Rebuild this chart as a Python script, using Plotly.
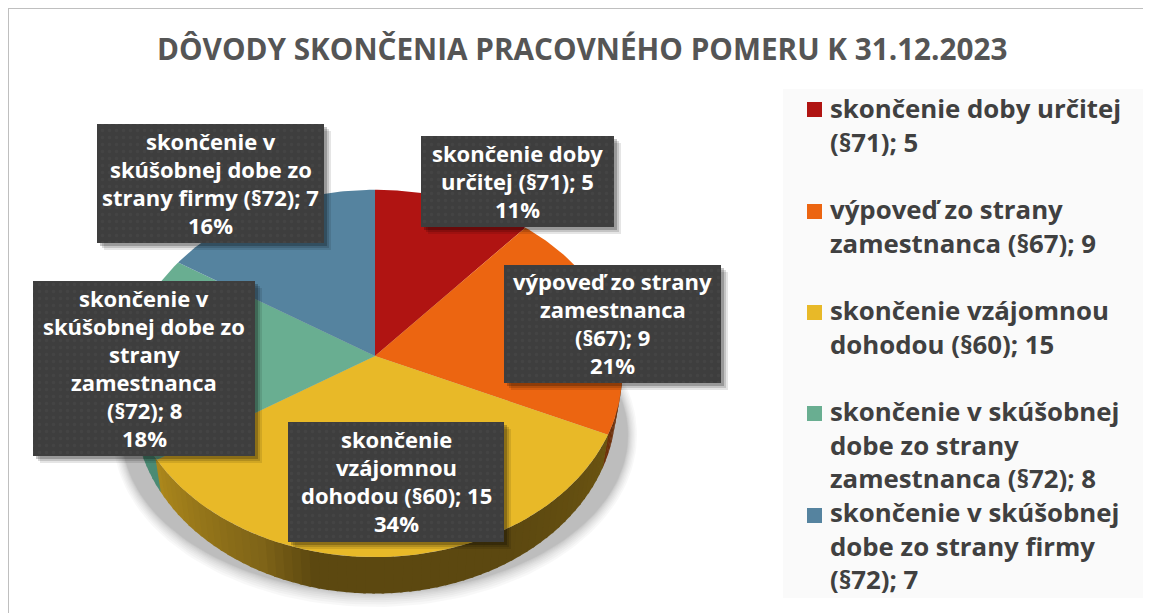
import numpy as np
import plotly.graph_objects as go

# ---- data ----
title = "DÔVODY SKONČENIA PRACOVNÉHO POMERU K 31.12.2023"
values = [5, 9, 15, 8, 7]
percents = [11, 21, 34, 18, 16]
label_lines = [
    ["skončenie doby", "určitej (§71); 5"],
    ["výpoveď zo strany", "zamestnanca", "(§67); 9"],
    ["skončenie", "vzájomnou", "dohodou (§60); 15"],
    ["skončenie v", "skúšobnej dobe zo", "strany", "zamestnanca", "(§72); 8"],
    ["skončenie v", "skúšobnej dobe zo", "strany firmy (§72); 7"],
]
legend_lines = [
    ["skončenie doby určitej", "(§71); 5"],
    ["výpoveď zo strany", "zamestnanca (§67); 9"],
    ["skončenie vzájomnou", "dohodou (§60); 15"],
    ["skončenie v skúšobnej", "dobe zo strany", "zamestnanca (§72); 8"],
    ["skončenie v skúšobnej", "dobe zo strany firmy", "(§72); 7"],
]

# ---- style and layout ----
W, H = 1151, 613
PAGE = 8  # the page body keeps an 8 px margin; the axes start there
FONT = "Open Sans"
colors = ["#b01412", "#ec6511", "#e8b928", "#69ae91", "#55839f"]
wall_side = ["#6e1010", "#6e300a", None, "#4b8b74", "#3d6076"]
CX, CY, RX, RY, PERSP = 375, 356, 246, 182, 0.095
DEPTH = 33
WALL_NARROW = 0.975
label_boxes = [(421, 136, 614, 227), (504, 265, 721, 383), (288, 422, 504, 542),
               (33, 281, 255, 456), (97, 124, 324, 243)]
legend_y = [125, 226, 327, 444.5, 545.5]
key_y = [109.5, 211.5, 312.5, 413.5, 515.5]
LABEL_PITCH = 28
LABEL_SIZE, LEGEND_SIZE, TITLE_SIZE = 22, 25.8, 29.7


def project(theta, dy=0.0, narrow=1.0):
    """theta clockwise from 12 o'clock -> perspective-projected rim point in pixels."""
    x, y = np.sin(theta), -np.cos(theta)
    s = 1 / (1 - PERSP * y)
    return CX + RX * narrow * x * s, CY + RY * y * s + dy * s


def poly(xs, ys, color, name=None, **kw):
    return go.Scatter(x=xs, y=ys, mode="lines", fill="toself", fillcolor=color,
                      line=dict(width=0), hoverinfo="skip", showlegend=False, name=name, **kw)


def text_block(lines, x, yc, pitch, size, color, anchor):
    n = len(lines)
    return [dict(x=x, y=yc + (j - (n - 1) / 2) * pitch, text=line, showarrow=False,
                 xref="x", yref="y", xanchor=anchor, yanchor="middle",
                 font=dict(family=FONT, size=size, color=color, weight="bold"))
            for j, line in enumerate(lines)]


fig = go.Figure()

# soft ground shadow
t = np.linspace(0, 2 * np.pi, 181)
for k in np.linspace(1, 0, 10) ** 1.6:
    fig.add_trace(poly(375 + (253 + 9 * k) * np.cos(t), 435 + (158 + 14 * k) * np.sin(t),
                       "rgba(0,0,0,0.026)"))

# boundaries of the slices, derived from the values
frac = np.cumsum([0] + values) / sum(values)
theta = 2 * np.pi * frac


def hex_mix(stops_t, stops_c, v):
    rgb = [np.interp(v, stops_t, [int(c[i:i + 2], 16) for c in stops_c]) for i in (1, 3, 5)]
    return "rgb(%d,%d,%d)" % tuple(rgb)


# side wall, cut into thin strips to carry the shading
wall_t = np.radians([114, 150, 193, 205, 237])
wall_c = ["#6b5412", "#5c4810", "#5c4810", "#7f6418", "#ab871c"]
edges = np.radians(np.arange(90, 272, 2.0))
for a, b in zip(edges[:-1], edges[1:]):
    mid = (a + b) / 2
    idx = int(np.searchsorted(theta, mid) - 1)
    col = wall_side[idx] or hex_mix(wall_t, wall_c, mid)
    arc = np.linspace(a, b + 0.01, 4)
    x1, y1 = project(arc)
    x2, y2 = project(arc[::-1], DEPTH, WALL_NARROW)
    fig.add_trace(poly(np.r_[x1, x2], np.r_[y1, y2], col))

# top face
for i, c in enumerate(colors):
    arc = np.linspace(theta[i], theta[i + 1], 80)
    xs, ys = project(arc)
    fig.add_trace(poly(np.r_[CX, xs, CX], np.r_[CY, ys, CY], c, name=" ".join(legend_lines[i])))

# data labels
annotations = []
for i, box in enumerate(label_boxes):
    x0, y0, x1, y1 = box
    for off, alpha in ((7, .10), (5, .14), (3, .22)):
        fig.add_trace(poly([x0 + off, x1 + off, x1 + off, x0 + off, x0 + off],
                           [y0 + off, y0 + off, y1 + off, y1 + off, y0 + off],
                           f"rgba(0,0,0,{alpha})"))
    fig.add_trace(go.Scatter(x=[x0, x1, x1, x0, x0], y=[y0, y0, y1, y1, y0], mode="lines", fill="toself",
                             fillcolor="#3f3f3f",
                             fillpattern=dict(shape=".", size=7, solidity=0.18,
                                              bgcolor="#3e3e3e", fgcolor="#494949"),
                             line=dict(width=0), hoverinfo="skip", showlegend=False))
    annotations += text_block(label_lines[i] + [f"{percents[i]}%"], (x0 + x1) / 2, (y0 + y1) / 2 - 1,
                              LABEL_PITCH, LABEL_SIZE, "#ffffff", "center")

# legend
fig.add_trace(go.Scatter(x=[814.5] * len(colors), y=key_y, mode="markers",
                         marker=dict(symbol="square", size=15, color=colors, line=dict(width=0)),
                         hoverinfo="skip", showlegend=False))
for lines, y in zip(legend_lines, legend_y):
    annotations.append(dict(x=827.5, y=y, text="<br>".join(lines), showarrow=False, align="left",
                            xref="x", yref="y", xanchor="left", yanchor="middle",
                            font=dict(family=FONT, size=LEGEND_SIZE, color="#404040", weight="bold")))

annotations += text_block([title], 582, 48.5, 0, TITLE_SIZE, "#555555", "center")

shapes = [
    dict(type="rect", xref="x", yref="y", x0=783, x1=1143, y0=89, y1=598,
         fillcolor="#fafafa", line=dict(width=0), layer="below"),
    dict(type="line", xref="x", yref="y", x0=PAGE, x1=PAGE, y0=PAGE, y1=H, line=dict(color="#bfbfbf", width=2), layer="below"),
    dict(type="line", xref="x", yref="y", x0=PAGE, x1=W, y0=PAGE, y1=PAGE, line=dict(color="#bfbfbf", width=2), layer="below"),
]

fig.update_layout(
    width=W - PAGE, height=H - PAGE, margin=dict(l=0, r=0, t=0, b=0),
    paper_bgcolor="#ffffff", plot_bgcolor="#ffffff", showlegend=False,
    xaxis=dict(range=[PAGE, W], visible=False, fixedrange=True),
    yaxis=dict(range=[H, PAGE], visible=False, fixedrange=True),
    annotations=annotations, shapes=shapes,
)
fig.write_html("out.html")
